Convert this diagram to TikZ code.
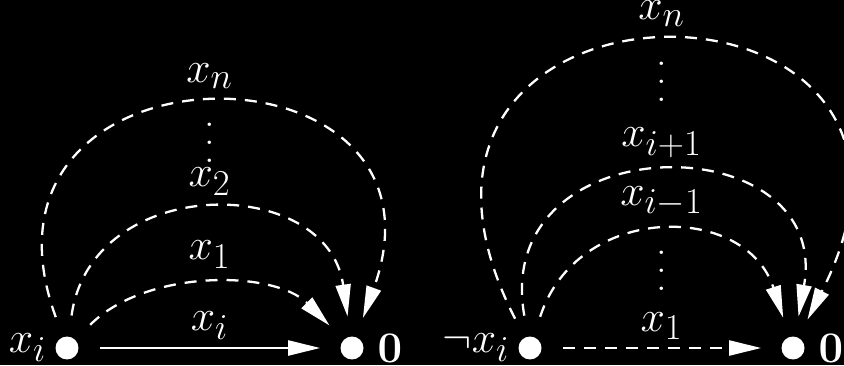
\documentclass[tikz,border=0pt]{standalone}
\usetikzlibrary{arrows.meta,positioning}

\begin{document}
\begin{tikzpicture}[
  x=0.02cm, y=0.02cm,
  font=\fontsize{30}{36}\selectfont,
  vert/.style={circle, fill=white, inner sep=0pt, minimum size=0.46cm},
  lbl/.style={text=white, inner sep=2pt},
  vdotsnode/.style={text=white, inner sep=0pt, align=center, font=\fontsize{24}{10.2}\selectfont},
  edge/.style={-{Triangle[length=0.64cm,width=0.3cm]}, line width=1.3pt, draw=white,
               shorten <=0.42cm, shorten >=0.4cm},
  dashededge/.style={edge, dash pattern=on 0.24cm off 0.18cm},
  elbl/.style={above, text=white, inner sep=4pt},
  arclbl/.style={elbl, inner sep=10pt}]
\useasboundingbox (0,0) rectangle (844,365);
\fill[black] (0,0) rectangle (844,365);
% left graph
\node[vert] (xiL) at (67,17) {};
\node[vert] (zeroL) at (352,17) {};
\node[lbl, left=0.1cm of xiL] (lxiL) {$x_i$};
\node[lbl, right=0.2cm of zeroL] (lzeroL) {$\mathbf{0}$};
\draw[edge] (xiL) -- node[elbl] {$x_i$} (zeroL);
\draw[dashededge] (xiL) to[out=45,in=135,looseness=0.95] node[arclbl] {$x_1$} (zeroL);
\draw[dashededge] (xiL) to[out=82,in=98,looseness=1.5] node[arclbl] {$x_2$} (zeroL);
\draw[dashededge] (xiL) to[out=110,in=70,looseness=2.85] node[arclbl] {$x_n$} (zeroL);
\node[vdotsnode] (vdL) at (210,222) {.\\.\\.};
% right graph
\node[vert] (nxi) at (530,17) {};
\node[vert] (zeroR) at (793,17) {};
\node[lbl, left=0.1cm of nxi] (lnxi) {$\neg x_i$};
\node[lbl, right=0.2cm of zeroR] (lzeroR) {$\mathbf{0}$};
\draw[dashededge] (nxi) -- node[elbl] {$x_1$} (zeroR);
\draw[dashededge] (nxi) to[out=72,in=108,looseness=1.42] node[arclbl] {$x_{i-1}$} (zeroR);
\draw[dashededge] (nxi) to[out=100,in=80,looseness=2.08] node[arclbl] {$x_{i+1}$} (zeroR);
\draw[dashededge] (nxi) to[out=117,in=63,looseness=4.1] node[arclbl] {$x_n$} (zeroR);
\node[vdotsnode] (vdRa) at (662,283) {.\\.\\.};
\node[vdotsnode] (vdRb) at (662,94) {.\\.\\.};
\end{tikzpicture}
\end{document}
